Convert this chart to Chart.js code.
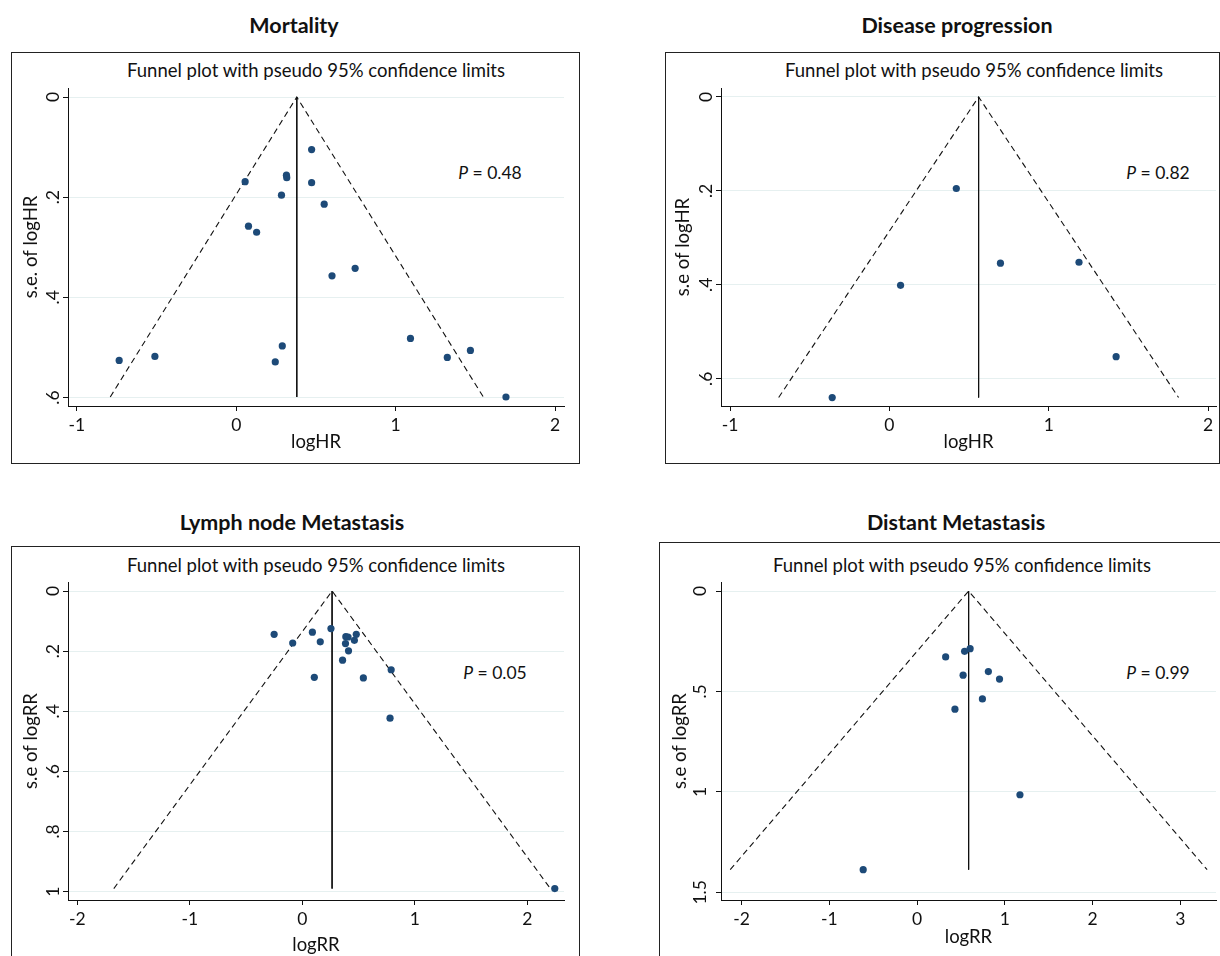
<!DOCTYPE html>
<html>
<head>
<meta charset="utf-8">
<script src="https://cdn.jsdelivr.net/npm/chart.js@4/dist/chart.umd.min.js"></script>
<style>
  body { margin: 0; background: #fff; }
  #page { position: relative; width: 1220px; height: 956px; overflow: hidden; font-family: Lato, "Open Sans", sans-serif; color: #111; }
  .box { position: absolute; border: 1px solid #222; box-sizing: border-box; }
  .lbl { position: absolute; transform: translate(-50%, -50%); white-space: nowrap; }
  .title { font-weight: bold; font-size: 21.5px; }
  .sub { font-size: 18.5px; }
  .pval { font-size: 17.5px; }
  canvas { position: absolute; }
</style>
</head>
<body>
<div id="page"></div>
<script>
// Mortality
const mortalityLogHR = [0.473, 0.315, 0.317, 0.056, 0.473, 0.284, 0.552, 0.077, 0.128, 0.746, 0.601, 1.093, 0.289, 1.469, -0.510, 1.324, -0.734, 0.245, 1.692];
const mortalitySE    = [0.105, 0.156, 0.161, 0.169, 0.171, 0.196, 0.214, 0.258, 0.270, 0.342, 0.357, 0.482, 0.497, 0.506, 0.518, 0.520, 0.526, 0.529, 0.599];
const mortalityFunnelX = [-0.79, 0.38, 1.55];
const mortalityFunnelY = [0.599, 0, 0.599];
const mortalityPooledX = [0.38, 0.38];
const mortalityPooledY = [0, 0.599];

// Disease progression
const progressionLogHR = [0.420, 0.697, 1.190, 0.070, 1.423, -0.359];
const progressionSE    = [0.195, 0.354, 0.352, 0.401, 0.553, 0.640];
const progressionFunnelX = [-0.695, 0.56, 1.815];
const progressionFunnelY = [0.64, 0, 0.64];
const progressionPooledX = [0.56, 0.56];
const progressionPooledY = [0, 0.64];

// Lymph node metastasis
const lymphLogRR = [-0.251, -0.086, 0.089, 0.159, 0.254, 0.386, 0.406, 0.479, 0.383, 0.462, 0.410, 0.357, 0.789, 0.106, 0.542, 0.779, 2.243];
const lymphSE    = [0.144, 0.173, 0.137, 0.169, 0.125, 0.152, 0.153, 0.144, 0.175, 0.164, 0.199, 0.230, 0.262, 0.287, 0.289, 0.423, 0.990];
const lymphFunnelX = [-1.676, 0.264, 2.204];
const lymphFunnelY = [0.99, 0, 0.99];
const lymphPooledX = [0.264, 0.264];
const lymphPooledY = [0, 0.99];

// Distant metastasis
const distantLogRR = [0.605, 0.542, 0.326, 0.813, 0.525, 0.940, 0.745, 0.432, 1.173, -0.614];
const distantSE    = [0.287, 0.300, 0.328, 0.401, 0.419, 0.438, 0.537, 0.588, 1.014, 1.387];
const distantFunnelX = [-2.13, 0.588, 3.307];
const distantFunnelY = [1.387, 0, 1.387];
const distantPooledX = [0.588, 0.588];
const distantPooledY = [0, 1.387];

// ticks
const hrXTicks = [-1, 0, 1, 2];
const hrYTicks = [0, 0.2, 0.4, 0.6];
const hrYLabels = ["0", ".2", ".4", ".6"];
const lymphXTicks = [-2, -1, 0, 1, 2];
const lymphYTicks = [0, 0.2, 0.4, 0.6, 0.8, 1];
const lymphYLabels = ["0", ".2", ".4", ".6", ".8", "1"];
const distantXTicks = [-2, -1, 0, 1, 2, 3];
const distantYTicks = [0, 0.5, 1, 1.5];
const distantYLabels = ["0", ".5", "1", "1.5"];

const titles = ["Mortality", "Disease progression", "Lymph node Metastasis", "Distant Metastasis"];
const subtitle = "Funnel plot with pseudo 95% confidence limits";
const pValues = ["0.48", "0.82", "0.05", "0.99"];

const panels = [
  { xs: mortalityLogHR, ys: mortalitySE, fx: mortalityFunnelX, fy: mortalityFunnelY, px: mortalityPooledX, py: mortalityPooledY,
    xTicks: hrXTicks, yTicks: hrYTicks, yLabels: hrYLabels, xTitle: "logHR", yTitle: "s.e. of logHR",
    area: [68, 88, 564, 406], xr: [-1.055, 2.056], yr: [-0.018, 0.617],
    box: [11, 52, 569, 412], tpos: [294, 25], spos: [316, 70], ppos: [490, 172], xtPad: 8.9, ytPad: 7.9 },
  { xs: progressionLogHR, ys: progressionSE, fx: progressionFunnelX, fy: progressionFunnelY, px: progressionPooledX, py: progressionPooledY,
    xTicks: hrXTicks, yTicks: hrYTicks, yLabels: hrYLabels, xTitle: "logHR", yTitle: "s.e of logHR",
    area: [721, 88, 1216, 406], xr: [-1.057, 2.05], yr: [-0.019, 0.658],
    box: [665, 52, 555, 412], tpos: [957, 25], spos: [974, 70], ppos: [1158, 172], xtPad: 8.9, ytPad: 6.9 },
  { xs: lymphLogRR, ys: lymphSE, fx: lymphFunnelX, fy: lymphFunnelY, px: lymphPooledX, py: lymphPooledY,
    xTicks: lymphXTicks, yTicks: lymphYTicks, yLabels: lymphYLabels, xTitle: "logRR", yTitle: "s.e of logRR",
    area: [68, 582, 564, 900], xr: [-2.083, 2.325], yr: [-0.030, 1.028],
    box: [11, 546, 569, 420], tpos: [292, 522], spos: [316, 565], ppos: [495, 672], xtPad: 0, ytPad: 7.9 },
  { xs: distantLogRR, ys: distantSE, fx: distantFunnelX, fy: distantFunnelY, px: distantPooledX, py: distantPooledY,
    xTicks: distantXTicks, yTicks: distantYTicks, yLabels: distantYLabels, xTitle: "logRR", yTitle: "s.e of logRR",
    area: [721, 582, 1216, 900], xr: [-2.235, 3.408], yr: [-0.045, 1.538],
    box: [659, 542, 570, 420], tpos: [956, 522], spos: [962, 565], ppos: [1158, 672], xtPad: 7.9, ytPad: 4.4 }
];

Chart.defaults.font.family = "Lato, 'Open Sans', sans-serif";
Chart.defaults.font.size = 17.5;
Chart.defaults.color = "#111";

const page = document.getElementById("page");
const dotColor = "#1d4a78";
const Y_W = 56, X_H = 56, TOP = 35, RIGHT = 4;

function addLabel(cls, html, pos) {
  const d = document.createElement("div");
  d.className = "lbl " + cls;
  d.innerHTML = html;
  d.style.left = pos[0] + "px";
  d.style.top = pos[1] + "px";
  page.appendChild(d);
}

panels.forEach((p, k) => {
  const b = document.createElement("div");
  b.className = "box";
  b.style.left = p.box[0] + "px"; b.style.top = p.box[1] + "px";
  b.style.width = p.box[2] + "px"; b.style.height = p.box[3] + "px";
  page.appendChild(b);

  addLabel("title", titles[k], p.tpos);
  addLabel("sub", subtitle, p.spos);
  addLabel("pval", "<i>P</i> = " + pValues[k], p.ppos);

  const cv = document.createElement("canvas");
  const left = p.area[0] - Y_W, top = p.area[1] - TOP;
  const w = p.area[2] + RIGHT - left, h = p.area[3] + X_H - top;
  cv.width = w; cv.height = h;
  cv.style.left = left + "px"; cv.style.top = top + "px";
  page.appendChild(cv);

  new Chart(cv, {
    type: "scatter",
    data: {
      datasets: [
        { data: p.xs.map((x, i) => ({ x: x, y: p.ys[i] })), pointRadius: 3.6, pointBackgroundColor: dotColor, pointBorderWidth: 0, order: 0 },
        { data: p.fx.map((x, i) => ({ x: x, y: p.fy[i] })), showLine: true, pointRadius: 0, borderColor: "#111", borderWidth: 1.1, borderDash: [6, 4], order: 1 },
        { data: p.px.map((x, i) => ({ x: x, y: p.py[i] })), showLine: true, pointRadius: 0, borderColor: "#111", borderWidth: 1, order: 2 }
      ]
    },
    options: {
      responsive: false,
      animation: false,
      devicePixelRatio: 1,
      layout: { padding: { top: TOP, right: RIGHT, left: 0, bottom: 0 } },
      plugins: { legend: { display: false }, tooltip: { enabled: false } },
      scales: {
        x: {
          type: "linear", min: p.xr[0], max: p.xr[1],
          afterBuildTicks: s => { s.ticks = p.xTicks.map(v => ({ value: v })); },
          afterFit: s => { s.height = X_H; },
          ticks: { padding: 4, maxRotation: 0, color: "#111", callback: v => String(v) },
          grid: { drawOnChartArea: false, tickLength: 5, tickColor: "#111" },
          border: { color: "#111" },
          title: { display: true, text: p.xTitle, color: "#111", font: { size: 18.5 }, padding: { top: 0, bottom: p.xtPad } }
        },
        y: {
          type: "linear", reverse: true, min: p.yr[0], max: p.yr[1],
          afterBuildTicks: s => { s.ticks = p.yTicks.map(v => ({ value: v })); },
          afterFit: s => { s.width = Y_W; },
          ticks: { padding: 3, minRotation: 90, maxRotation: 90, crossAlign: "center", color: "#111",
                   callback: (v, i) => p.yLabels[i] },
          grid: { color: "#e6f0f0", tickLength: 5, tickColor: "#111" },
          border: { color: "#111" },
          title: { display: true, text: p.yTitle, color: "#111", font: { size: 18.5 }, padding: { top: p.ytPad, bottom: 0 } }
        }
      }
    }
  });
});
</script>
</body>
</html>
